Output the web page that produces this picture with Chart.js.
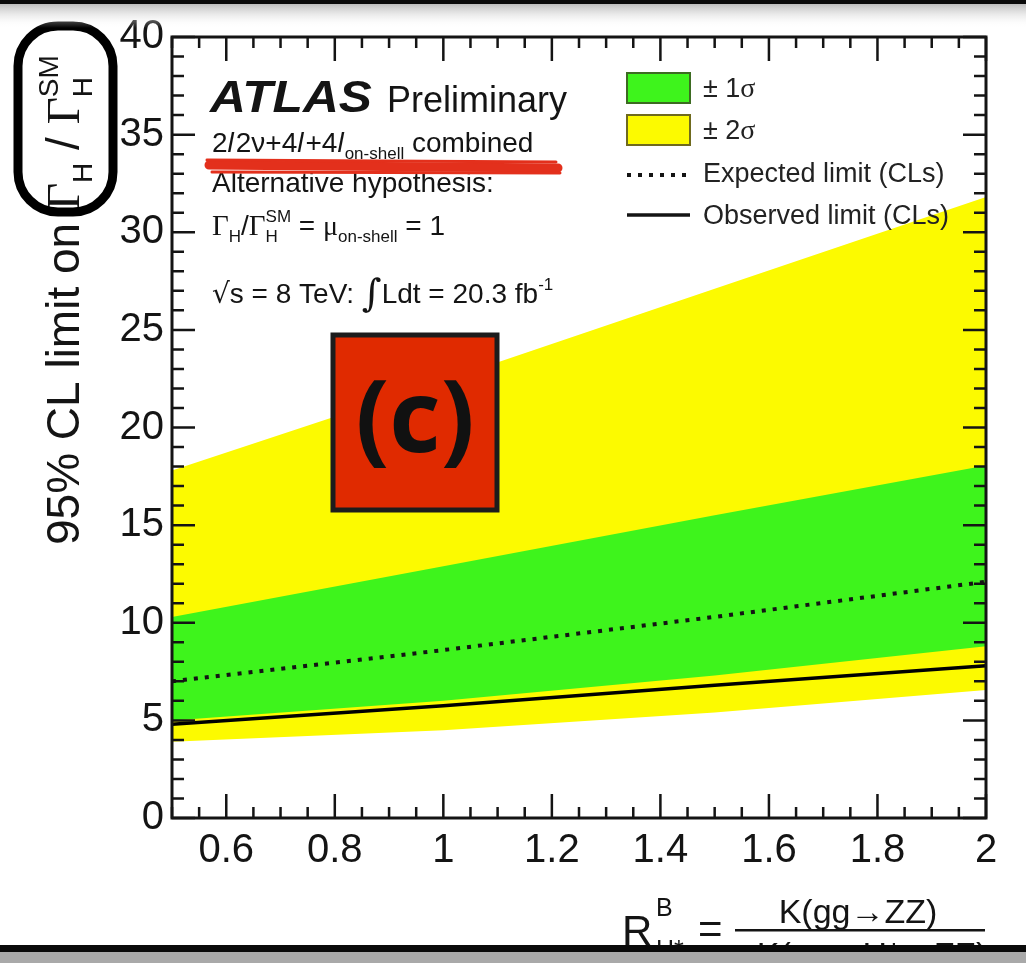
<!DOCTYPE html>
<html>
<head>
<meta charset="utf-8">
<script src="https://cdn.jsdelivr.net/npm/chart.js@4.4.1/dist/chart.umd.min.js"></script>
<style>
  html, body { margin: 0; padding: 0; background: #fff; }
  #wrap { width: 1026px; height: 963px; position: relative; }
</style>
</head>
<body>
<div id="wrap"><canvas id="limitChart"></canvas></div>
<script>
// Limits on Gamma_H / Gamma_H^SM versus R^B_H*
const ratioB        = [0.5, 1.0, 1.5, 2.0];
const twoSigmaUp    = [17.8, 22.4, 27.1, 31.8];
const oneSigmaUp    = [10.3, 12.9, 15.5, 18.05];
const expectedLimit = [7.0, 8.6, 10.3, 12.1];
const oneSigmaDown  = [5.0, 6.0, 7.3, 8.8];
const observedLimit = [4.8, 5.75, 6.8, 7.8];
const twoSigmaDown  = [3.9, 4.5, 5.4, 6.55];

const xTickLabels = [0.6, 0.8, 1, 1.2, 1.4, 1.6, 1.8, 2];
const yTickLabels = [0, 5, 10, 15, 20, 25, 30, 35, 40];

const GREEN = '#3ef41c';
const YELLOW = '#fcfa00';
const INK = '#141414';
const SANS = '"Liberation Sans", Arial, sans-serif';
const SERIF = '"Liberation Serif", "Times New Roman", serif';

const pts = ys => ratioB.map((x, i) => ({ x, y: ys[i] }));

// draws a run of text pieces, handling sub/superscripts
function drawRun(ctx, x, y, runs) {
  for (const r of runs) {
    if (r.sup !== undefined) {
      ctx.font = r.font;
      ctx.fillText(r.sup, x, y + r.supDy);
      const w1 = ctx.measureText(r.sup).width;
      ctx.fillText(r.sub, x, y + r.subDy);
      const w2 = ctx.measureText(r.sub).width;
      x += Math.max(w1, w2);
      continue;
    }
    ctx.font = r.font;
    ctx.fillText(r.t, x, y + (r.dy || 0));
    x += ctx.measureText(r.t).width + (r.gap || 0);
  }
  return x;
}

const frameTicks = {
  id: 'frameTicks',
  afterDatasetsDraw(chart) {
    const { ctx, chartArea: a, scales: { x, y } } = chart;
    ctx.save();
    ctx.strokeStyle = INK;
    ctx.lineWidth = 2.5;
    ctx.beginPath();
    for (let k = 0; k <= 40; k++) {
      const py = y.getPixelForValue(k);
      const len = k % 5 === 0 ? 23 : 12;
      ctx.moveTo(a.left, py); ctx.lineTo(a.left + len, py);
      ctx.moveTo(a.right, py); ctx.lineTo(a.right - len, py);
    }
    for (let k = 10; k <= 40; k++) {
      const px = x.getPixelForValue(k / 20);
      const len = k % 4 === 0 ? 24 : 11;
      ctx.moveTo(px, a.bottom); ctx.lineTo(px, a.bottom - len);
      ctx.moveTo(px, a.top); ctx.lineTo(px, a.top + len);
    }
    ctx.stroke();
    ctx.lineWidth = 3;
    ctx.strokeRect(a.left, a.top, a.right - a.left, a.bottom - a.top);
    ctx.restore();
  }
};

const decorations = {
  id: 'decorations',
  afterDraw(chart) {
    const ctx = chart.ctx;
    ctx.save();
    ctx.fillStyle = INK;
    ctx.textBaseline = 'alphabetic';
    ctx.textAlign = 'left';

    // y axis title, rotated
    ctx.save();
    ctx.translate(79, 545);
    ctx.rotate(-Math.PI / 2);
    drawRun(ctx, 0, 0, [
      { t: '95% CL limit on ', font: '46px ' + SANS },
      { t: 'Γ', font: '47px ' + SERIF },
      { t: 'H', font: '28px ' + SANS, dy: 13 },
      { t: ' / ', font: '46px ' + SANS },
      { t: 'Γ', font: '47px ' + SERIF },
      { sup: 'SM', sub: 'H', font: '28px ' + SANS, supDy: -21, subDy: 13 }
    ]);
    ctx.restore();

    // experiment label block
    ctx.save();
    ctx.translate(210, 112);
    ctx.scale(1.13, 1);
    ctx.font = 'italic bold 44px ' + SANS;
    ctx.fillText('ATLAS', 0, 0);
    ctx.restore();
    ctx.font = '36px ' + SANS;
    ctx.fillText('Preliminary', 387, 112);

    const f = '28px ' + SANS, fi = 'italic 28px ' + SANS, fs = '17px ' + SANS;
    drawRun(ctx, 212, 152, [
      { t: '2', font: f }, { t: 'l', font: fi, gap: 2 }, { t: '2ν+4', font: f },
      { t: 'l', font: fi, gap: 2 }, { t: '+4', font: f }, { t: 'l', font: fi, gap: 1 },
      { t: 'on-shell', font: fs, dy: 7 }, { t: ' combined', font: f }
    ]);
    ctx.font = f;
    ctx.fillText('Alternative hypothesis:', 212, 192);
    drawRun(ctx, 212, 235, [
      { t: 'Γ', font: '29px ' + SERIF }, { t: 'H', font: fs, dy: 7 },
      { t: '/', font: f }, { t: 'Γ', font: '29px ' + SERIF },
      { sup: 'SM', sub: 'H', font: fs, supDy: -13, subDy: 7 },
      { t: ' = ', font: f }, { t: 'μ', font: '28px ' + SERIF },
      { t: 'on-shell', font: fs, dy: 7 }, { t: ' = 1', font: f }
    ]);
    drawRun(ctx, 212, 303, [
      { t: '√', font: '28px "DejaVu Sans", sans-serif' },
      { t: 's = 8 TeV: ', font: f },
      { t: '∫', font: '38px "DejaVu Serif", serif', dy: 3 },
      { t: 'Ldt = 20.3 fb', font: f },
      { t: '-1', font: fs, dy: -13 }
    ]);

    // legend
    const lx = 627, lw = 63;
    ctx.fillStyle = GREEN;
    ctx.fillRect(lx, 73, lw, 30);
    ctx.strokeStyle = '#3d6b22';
    ctx.lineWidth = 2;
    ctx.strokeRect(lx, 73, lw, 30);
    ctx.fillStyle = YELLOW;
    ctx.fillRect(lx, 115, lw, 30);
    ctx.strokeStyle = '#6f6a1e';
    ctx.strokeRect(lx, 115, lw, 30);

    ctx.strokeStyle = INK;
    ctx.lineWidth = 4;
    ctx.setLineDash([4, 7]);
    ctx.beginPath(); ctx.moveTo(lx, 175); ctx.lineTo(lx + lw, 175); ctx.stroke();
    ctx.setLineDash([]);
    ctx.lineWidth = 3.5;
    ctx.beginPath(); ctx.moveTo(lx, 215); ctx.lineTo(lx + lw, 215); ctx.stroke();

    ctx.fillStyle = '#222';
    const lf = '27px ' + SANS;
    drawRun(ctx, 703, 97, [{ t: '± 1', font: lf }, { t: 'σ', font: '28px ' + SERIF }]);
    drawRun(ctx, 703, 139, [{ t: '± 2', font: lf }, { t: 'σ', font: '28px ' + SERIF }]);
    ctx.font = lf;
    ctx.fillText('Expected limit (CLs)', 703, 182);
    ctx.fillText('Observed limit (CLs)', 703, 224);

    // x axis title
    ctx.fillStyle = INK;
    ctx.font = '42px ' + SANS;
    ctx.fillText('R', 622, 945);
    ctx.font = '25px ' + SANS;
    ctx.fillText('B', 656, 916);
    ctx.fillText('H*', 656, 958);
    ctx.font = '42px ' + SANS;
    ctx.fillText('=', 698, 943);
    ctx.fillRect(735, 929, 250, 2.5);
    ctx.font = '34px ' + SANS;
    ctx.textAlign = 'center';
    ctx.fillText('K(gg→ZZ)', 858, 923);
    ctx.fillText('K(gg→H*→ZZ)', 872, 966);
    ctx.textAlign = 'left';

    // marker underline
    ctx.strokeStyle = '#e3301c';
    ctx.lineCap = 'round';
    ctx.lineWidth = 9;
    ctx.beginPath(); ctx.moveTo(209, 165); ctx.lineTo(558, 168); ctx.stroke();
    ctx.lineWidth = 3;
    ctx.beginPath(); ctx.moveTo(207, 160); ctx.lineTo(556, 162); ctx.stroke();
    ctx.beginPath(); ctx.moveTo(212, 172); ctx.lineTo(560, 173); ctx.stroke();

    // panel tag
    ctx.fillStyle = '#e02a00';
    ctx.fillRect(333, 335, 164, 175);
    ctx.strokeStyle = '#1c1c1c';
    ctx.lineWidth = 5;
    ctx.lineCap = 'butt';
    ctx.strokeRect(333, 335, 164, 175);
    ctx.fillStyle = '#111';
    ctx.font = 'bold 100px "Open Sans", sans-serif';
    ctx.textAlign = 'center';
    ctx.textBaseline = 'middle';
    ctx.fillText('(c)', 415, 424);
    ctx.textAlign = 'left';
    ctx.textBaseline = 'alphabetic';

    // rounded outline around the width ratio in the y title
    ctx.strokeStyle = '#000';
    ctx.lineWidth = 9;
    ctx.beginPath();
    ctx.roundRect(18, 26, 95, 186, 40);
    ctx.stroke();

    // screen edges
    const g = ctx.createLinearGradient(0, 4, 0, 28);
    g.addColorStop(0, '#bdbdbd');
    g.addColorStop(1, 'rgba(255,255,255,0)');
    ctx.fillStyle = g;
    ctx.fillRect(0, 4, 1026, 24);
    ctx.fillStyle = '#0a0a0a';
    ctx.fillRect(0, 0, 1026, 4);
    ctx.fillRect(0, 945, 1026, 7);
    ctx.fillStyle = '#a9a9a9';
    ctx.fillRect(0, 952, 1026, 11);
    ctx.restore();
  }
};

const bandLine = { borderColor: 'rgba(0,0,0,0)', borderWidth: 0, pointRadius: 0, tension: 0 };

new Chart(document.getElementById('limitChart'), {
  type: 'line',
  data: {
    datasets: [
      { ...bandLine, label: '± 2σ', data: pts(twoSigmaUp), backgroundColor: YELLOW, fill: '+1', order: 6 },
      { ...bandLine, label: '-2σ', data: pts(twoSigmaDown), fill: false, order: 5 },
      { ...bandLine, label: '± 1σ', data: pts(oneSigmaUp), backgroundColor: GREEN, fill: '+1', order: 4 },
      { ...bandLine, label: '-1σ', data: pts(oneSigmaDown), fill: false, order: 3 },
      { label: 'Expected limit (CLs)', data: pts(expectedLimit), borderColor: INK, borderWidth: 4,
        borderDash: [4, 7], pointRadius: 0, tension: 0, fill: false, order: 1 },
      { label: 'Observed limit (CLs)', data: pts(observedLimit), borderColor: '#000', borderWidth: 3.5,
        pointRadius: 0, tension: 0, fill: false, order: 0 }
    ]
  },
  options: {
    responsive: true,
    maintainAspectRatio: false,
    animation: false,
    layout: { padding: { top: 37, right: 40, left: 0, bottom: 0 } },
    plugins: { legend: { display: false }, tooltip: { enabled: false } },
    scales: {
      x: {
        type: 'linear', min: 0.5, max: 2,
        afterBuildTicks: s => { s.ticks = xTickLabels.map(v => ({ value: v })); },
        afterFit: s => { s.height = 145; },
        grid: { display: false, drawTicks: false },
        border: { display: false },
        ticks: { color: INK, padding: 9, maxRotation: 0, autoSkip: false,
                 font: { size: 40, family: SANS }, callback: v => String(v) }
      },
      y: {
        type: 'linear', min: 0, max: 40,
        afterBuildTicks: s => { s.ticks = yTickLabels.map(v => ({ value: v })); },
        afterFit: s => { s.width = 172; },
        grid: { display: false, drawTicks: false },
        border: { display: false },
        ticks: { color: INK, padding: 8, autoSkip: false,
                 font: { size: 40, family: SANS } }
      }
    }
  },
  plugins: [frameTicks, decorations]
});
</script>
</body>
</html>
